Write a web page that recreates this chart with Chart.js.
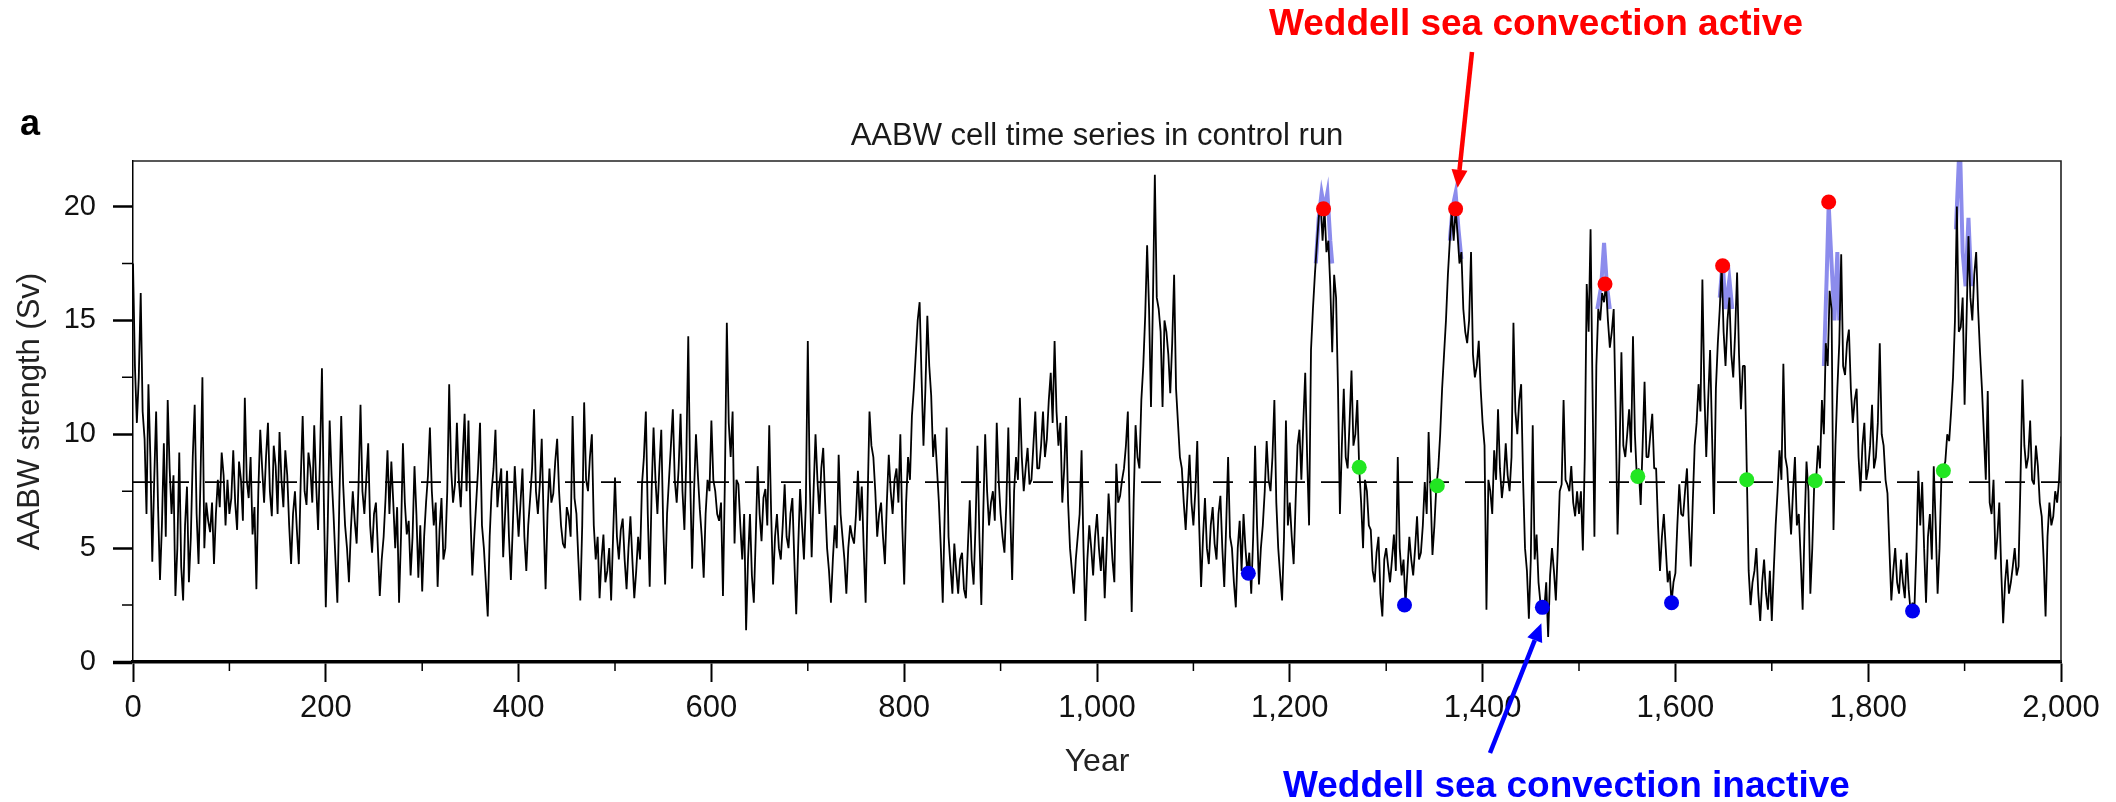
<!DOCTYPE html>
<html lang="en">
<head>
<meta charset="utf-8">
<title>AABW cell time series in control run</title>
<script src="https://cdn.jsdelivr.net/npm/chart.js@4"></script>
<style>
    html, body { margin: 0; padding: 0; background: #fff; }
    #aabwChart { display: block; }
</style>
</head>
<body>
<canvas id="aabwChart" width="2116" height="802"></canvas>
<script>
/**
 * AABW cell time series in control run - Chart.js recreation
 */

const FONT_FAMILY = "'Liberation Sans', Arial, Helvetica, sans-serif";

// One value every 2 model years (Sv)
const SAMPLE_STEP = 2;

// Years 0 - 498
const strength0 = [
    17.5, 13.0, 10.5, 12.5, 16.2, 11.0, 9.8, 6.5, 12.2, 9.0, 4.4, 8.0, 11.0, 6.8, 3.6, 6.0, 9.6, 5.5, 11.5, 8.5, 6.5, 8.2, 2.9, 5.0, 9.2,
    4.2, 2.7, 6.0, 7.7, 3.5, 5.5, 9.0, 11.3, 6.5, 4.3, 8.0, 12.5, 5.0, 7.0, 6.2, 5.7, 7.0, 4.3, 6.5, 8.0, 6.8, 9.2, 8.2, 6.0, 8.0,
    6.5, 7.2, 9.3, 7.0, 5.8, 8.8, 8.0, 6.2, 11.6, 8.0, 7.2, 9.0, 5.6, 6.8, 3.2, 7.5, 10.2, 8.5, 7.0, 9.0, 10.5, 7.5, 6.4, 9.5, 8.6,
    6.5, 10.1, 8.0, 6.8, 9.3, 8.2, 6.0, 4.3, 6.5, 7.5, 5.8, 4.3, 8.0, 10.8, 7.5, 6.9, 9.2, 8.5, 7.0, 10.4, 7.8, 5.8, 9.0, 12.9, 7.0,
    2.4, 6.0, 10.6, 8.2, 6.5, 4.5, 2.6, 7.0, 10.8, 7.8, 6.0, 5.0, 3.5, 5.8, 7.5, 6.2, 5.2, 7.8, 11.3, 7.5, 6.5, 8.0, 9.6, 6.0, 4.8,
    6.5, 7.0, 5.0, 2.9, 4.5, 5.5, 7.2, 9.3, 6.5, 8.8, 7.0, 5.0, 6.8, 2.6, 5.5, 9.6, 7.0, 5.6, 6.2, 3.8, 5.5, 8.6, 6.5, 3.7, 6.0,
    3.1, 5.5, 7.0, 8.2, 10.3, 7.5, 6.0, 7.0, 3.3, 5.8, 7.2, 4.5, 5.0, 7.5, 12.2, 8.5, 7.0, 7.8, 10.5, 8.0, 6.8, 9.0, 10.9, 7.5, 10.6,
    6.5, 3.8, 5.5, 7.0, 8.5, 10.5, 6.0, 5.0, 3.5, 2.0, 5.5, 7.5, 8.5, 10.2, 6.8, 7.8, 8.5, 4.6, 6.5, 8.4, 5.5, 3.6, 6.0, 8.6, 7.0,
    5.5, 7.0, 8.5, 5.5, 4.0, 6.0, 7.2, 8.5, 11.1, 7.5, 6.5, 7.8, 9.8, 6.2, 3.2, 6.5, 8.5, 7.0, 7.4, 8.8, 9.8, 7.5, 6.0, 5.2, 5.0,
    6.8, 6.4, 5.5, 10.8, 7.2, 6.5, 4.5, 2.7, 6.0, 11.4, 8.0, 7.5, 9.0, 10.0, 6.0, 4.5, 5.5, 2.8, 4.5, 5.6, 3.5, 4.0, 5.0, 2.7, 5.5
];

// Years 500 - 998
const strength500 = [
    8.1, 5.5, 4.5, 5.8, 6.3, 4.5, 3.2, 5.0, 6.4, 4.5, 2.8, 4.0, 5.5, 4.5, 7.8, 9.0, 11.0, 6.5, 3.3, 7.5, 10.3, 8.0, 6.5, 8.5, 10.2,
    6.0, 3.4, 6.5, 8.0, 9.5, 11.1, 8.0, 7.0, 8.5, 10.9, 7.5, 5.8, 9.0, 14.3, 8.0, 4.1, 7.5, 10.0, 8.2, 6.7, 5.5, 3.7, 6.5, 8.0, 7.5,
    10.6, 8.0, 7.5, 6.5, 6.2, 7.0, 2.9, 8.0, 14.9, 10.5, 9.0, 11.0, 5.2, 8.0, 7.8, 6.0, 4.5, 6.5, 1.4, 4.5, 6.5, 3.8, 2.6, 5.5, 8.6,
    6.5, 5.3, 7.2, 7.6, 6.0, 10.4, 6.5, 3.4, 5.5, 6.5, 5.0, 4.5, 6.0, 7.8, 5.5, 5.0, 6.5, 7.2, 4.5, 2.1, 5.0, 7.6, 6.0, 4.5, 7.0,
    14.1, 8.0, 4.6, 7.5, 10.0, 8.0, 6.5, 8.5, 9.4, 7.0, 5.0, 4.0, 2.6, 4.5, 6.0, 5.0, 9.1, 6.5, 5.5, 4.5, 3.0, 5.0, 6.0, 5.5, 5.2,
    6.5, 8.4, 6.2, 7.7, 5.0, 2.6, 7.0, 11.0, 9.5, 9.0, 7.5, 5.5, 6.5, 7.0, 5.5, 4.3, 7.0, 9.1, 7.5, 6.5, 8.0, 8.5, 7.0, 10.0, 6.0,
    3.4, 7.0, 9.0, 8.0, 10.8, 12.0, 13.5, 15.0, 15.8, 12.5, 9.5, 12.0, 15.2, 13.0, 11.7, 9.0, 10.0, 8.5, 7.0, 5.0, 2.6, 6.5, 10.3, 5.5, 4.2,
    3.0, 5.2, 4.0, 3.0, 4.5, 4.8, 3.2, 2.8, 5.0, 7.1, 4.5, 3.4, 6.0, 9.5, 5.5, 2.5, 6.5, 10.0, 7.5, 6.0, 7.0, 7.5, 6.2, 10.5, 8.0,
    6.5, 5.5, 4.8, 7.0, 10.3, 6.5, 3.6, 7.5, 9.0, 8.0, 11.6, 9.0, 7.5, 8.5, 9.4, 7.8, 8.0, 9.5, 11.0, 8.5, 8.5, 9.5, 11.0, 9.0, 9.8,
    11.5, 12.7, 10.5, 14.1, 11.0, 9.5, 10.5, 7.0, 8.5, 10.8, 7.0, 5.0, 4.0, 3.0, 4.5, 5.5, 6.5, 9.3, 5.0, 1.8, 4.5, 6.0, 5.0, 3.8, 5.5
];

// Years 1000 - 1498
const strength1000 = [
    6.5, 5.0, 4.0, 5.5, 2.8, 5.0, 7.4, 6.0, 4.5, 3.5, 8.7, 7.0, 7.3, 8.0, 8.5, 9.5, 11.0, 6.0, 2.2, 7.0, 10.4, 9.0, 8.5, 11.5, 13.0,
    15.2, 18.3, 15.5, 11.2, 15.8, 21.4, 16.0, 15.5, 14.5, 11.2, 15.0, 14.5, 13.5, 11.8, 14.0, 17.0, 12.0, 10.5, 9.0, 8.5, 7.0, 5.8, 7.5, 9.1, 7.0,
    6.0, 7.5, 9.7, 6.0, 3.3, 5.5, 7.2, 5.0, 4.3, 6.0, 6.8, 5.2, 4.5, 6.5, 7.3, 5.0, 3.3, 6.0, 9.0, 5.5, 5.0, 3.5, 2.4, 5.0, 6.2,
    4.0, 6.5, 5.0, 3.9, 4.8, 3.0, 5.5, 9.5, 6.0, 3.4, 5.0, 6.0, 7.5, 9.7, 8.0, 7.5, 9.0, 11.5, 7.0, 5.0, 3.8, 2.7, 5.5, 10.6, 6.0,
    7.0, 5.5, 4.3, 7.0, 9.5, 10.2, 8.0, 10.5, 12.7, 9.0, 6.0, 13.7, 15.5, 17.0, 18.3, 19.5, 20.2, 18.5, 19.9, 18.0, 18.5, 16.5, 13.6, 17.0, 16.0,
    12.0, 6.5, 9.5, 12.0, 9.0, 8.5, 10.5, 12.8, 9.5, 10.0, 11.5, 8.5, 7.0, 5.0, 8.0, 7.5, 6.0, 5.8, 4.0, 3.5, 4.8, 5.5, 3.0, 2.0, 4.5,
    5.0, 4.2, 3.5, 4.5, 5.6, 4.0, 9.0, 5.0, 3.8, 4.5, 2.5, 4.0, 5.5, 4.5, 3.8, 5.0, 6.4, 4.5, 4.8, 6.0, 7.9, 6.5, 10.1, 7.5, 4.7,
    6.0, 7.7, 8.5, 10.0, 12.0, 13.5, 15.0, 17.0, 18.5, 19.8, 18.5, 19.9, 18.8, 17.5, 18.0, 15.5, 14.5, 14.0, 15.0, 18.0, 13.5, 12.5, 13.0, 14.1, 12.0,
    10.5, 9.5, 2.3, 8.0, 7.5, 6.5, 9.3, 8.0, 11.1, 8.5, 7.2, 8.0, 9.6, 8.2, 7.5, 9.0, 14.9, 11.0, 10.0, 11.5, 12.2, 8.0, 5.0, 4.0, 1.9,
    4.5, 10.4, 4.5, 5.6, 3.5, 2.6, 2.4, 2.3, 3.5, 1.1, 3.8, 5.0, 4.0, 2.7, 5.0, 7.5, 7.8, 11.5, 8.0, 7.8, 7.5, 8.6, 7.0, 6.4, 7.5
];

// Years 1500 - 2000
const strength1500 = [
    6.5, 7.5, 4.9, 9.0, 16.6, 14.5, 19.0, 12.0, 5.5, 13.0, 15.5, 15.0, 16.2, 15.8, 16.6, 15.0, 13.8, 14.5, 15.5, 11.0, 5.6, 9.0, 13.6, 9.5, 9.0,
    10.0, 11.1, 9.2, 14.3, 10.0, 8.1, 8.5, 6.9, 9.5, 12.3, 9.0, 9.0, 10.0, 10.9, 8.5, 8.5, 6.0, 4.0, 5.5, 6.5, 5.0, 3.5, 4.0, 2.6, 3.5,
    3.9, 6.0, 7.8, 6.5, 6.4, 7.5, 8.5, 6.0, 4.2, 7.0, 9.5, 10.5, 12.2, 11.0, 16.8, 12.0, 9.0, 11.5, 13.7, 10.0, 6.5, 12.0, 14.0, 15.5, 17.4,
    14.5, 13.0, 15.0, 16.0, 13.5, 12.5, 14.5, 17.1, 13.5, 11.1, 13.0, 13.0, 8.5, 4.0, 2.5, 3.5, 4.0, 5.0, 3.0, 1.8, 3.5, 4.5, 3.0, 2.3, 4.0,
    1.8, 4.0, 6.0, 7.5, 9.3, 8.0, 13.1, 9.0, 8.5, 7.0, 5.6, 7.5, 9.0, 6.0, 6.5, 4.5, 2.3, 6.0, 8.8, 7.5, 3.0, 5.0, 7.8, 8.0, 9.5,
    8.5, 11.5, 10.0, 14.0, 13.0, 16.3, 15.5, 5.8, 9.5, 12.0, 14.0, 17.9, 13.0, 12.6, 14.0, 14.6, 12.0, 10.5, 11.5, 12.0, 9.0, 7.5, 9.5, 10.5, 8.0,
    8.5, 9.5, 11.3, 8.5, 9.0, 10.5, 14.0, 10.0, 9.5, 8.0, 7.4, 5.0, 2.7, 4.0, 5.0, 3.5, 3.0, 4.5, 3.5, 2.8, 4.8, 3.2, 2.2, 2.6, 2.4,
    5.0, 8.4, 6.0, 7.9, 5.0, 2.6, 5.5, 6.5, 4.5, 8.6, 6.0, 3.0, 5.0, 8.2, 8.5, 8.8, 10.0, 9.7, 11.0, 12.5, 15.0, 20.0, 14.5, 14.7, 16.0,
    11.3, 15.0, 18.7, 16.0, 15.0, 17.0, 18.0, 15.5, 13.6, 12.0, 10.0, 8.0, 11.9, 7.0, 6.5, 8.0, 4.5, 5.5, 7.0, 4.0, 1.7, 3.5, 4.5, 3.0, 3.5,
    4.2, 5.0, 3.8, 4.2, 8.0, 12.4, 9.5, 8.5, 9.0, 10.6, 8.0, 7.8, 9.5, 8.6, 7.0, 6.4, 4.5, 2.0, 5.5, 7.0, 6.0, 6.4, 7.5, 7.0, 8.0, 9.9
];

// Light blue trace showing through at the convection peaks (null = gap)
const peakTraceYears = [
    1227, 1230, 1233, 1236, 1239, 1242, 1244, 1300,
    1366, 1369, 1372, 1375, 1378, 1450,
    1519, 1523, 1526, 1529, 1532, 1600,
    1646, 1649, 1652, 1656, 1659, 1700,
    1754, 1757, 1759, 1762, 1765, 1768, 1770, 1800,
    1891, 1893, 1895, 1898, 1901, 1904, 1907
];
const peakTraceValues = [
    17.5, 19.5, 20.6, 19.9, 20.6, 18.5, 17.5, null,
    18.5, 20.0, 20.6, 19.0, 17.7, null,
    15.5, 16.5, 18.4, 16.5, 15.5, null,
    16.0, 17.6, 15.5, 16.8, 15.5, null,
    13.0, 17.0, 20.1, 17.5, 15.0, 18.0, 15.0, null,
    19.0, 21.0, 23.0, 18.0, 16.5, 19.5, 16.5
];

// Marked states
const activeYears = [1235, 1372, 1527, 1649, 1759];
const activeValues = [19.9, 19.9, 16.6, 17.4, 20.2];
const transitionYears = [1272, 1353, 1561, 1674, 1745, 1878];
const transitionValues = [8.55, 7.74, 8.15, 8.0, 7.96, 8.4];
const inactiveYears = [1157, 1319, 1462, 1596, 1846];
const inactiveValues = [3.9, 2.5, 2.4, 2.6, 2.24];

// Long-term mean (dashed line)
const meanYears = [0, 2000];
const meanValues = [7.9, 7.9];

// Axis ticks
const xTickValues = [0, 200, 400, 600, 800, 1000, 1200, 1400, 1600, 1800, 2000];
const xTickLabels = ['0', '200', '400', '600', '800', '1,000', '1,200', '1,400', '1,600', '1,800', '2,000'];
const xMinorTicks = [100, 300, 500, 700, 900, 1100, 1300, 1500, 1700, 1900];
const yTickValues = [0, 5, 10, 15, 20];
const yTickLabels = ['0', '5', '10', '15', '20'];
const yMinorTicks = [2.5, 7.5, 12.5, 17.5];

/**
 * Zip x and y arrays into Chart.js points
 */
function toPoints(xs, ys) {
    return xs.map((x, i) => ({ x: x, y: ys[i] }));
}

const strengthValues = [...strength0, ...strength500, ...strength1000, ...strength1500];
const strengthYears = strengthValues.map((_, i) => i * SAMPLE_STEP);

/**
 * Draw a straight arrow with a filled head
 */
function drawArrow(ctx, x1, y1, x2, y2, color) {
    const ang = Math.atan2(y2 - y1, x2 - x1);
    const head = 18;
    const half = 8;
    const bx = x2 - head * Math.cos(ang);
    const by = y2 - head * Math.sin(ang);
    ctx.strokeStyle = color;
    ctx.lineWidth = 4.5;
    ctx.beginPath();
    ctx.moveTo(x1, y1);
    ctx.lineTo(bx, by);
    ctx.stroke();
    ctx.fillStyle = color;
    ctx.beginPath();
    ctx.moveTo(x2, y2);
    ctx.lineTo(bx + half * Math.sin(ang), by - half * Math.cos(ang));
    ctx.lineTo(bx - half * Math.sin(ang), by + half * Math.cos(ang));
    ctx.closePath();
    ctx.fill();
}

// Frame, minor ticks, title and the two annotations
const overlayPlugin = {
    id: 'overlay',
    afterDraw(chart) {
        const { ctx, chartArea: area, scales: { x, y } } = chart;
        ctx.save();

        // top / right frame
        ctx.strokeStyle = '#222';
        ctx.lineWidth = 1.6;
        ctx.beginPath();
        ctx.moveTo(area.left, area.top);
        ctx.lineTo(area.right, area.top);
        ctx.lineTo(area.right, area.bottom);
        ctx.stroke();

        // minor ticks
        ctx.strokeStyle = '#000';
        ctx.lineWidth = 1.5;
        ctx.beginPath();
        xMinorTicks.forEach(v => {
            const px = x.getPixelForValue(v);
            ctx.moveTo(px, area.bottom);
            ctx.lineTo(px, area.bottom + 9);
        });
        yMinorTicks.forEach(v => {
            const py = y.getPixelForValue(v);
            ctx.moveTo(area.left - 11, py);
            ctx.lineTo(area.left, py);
        });
        ctx.stroke();

        // title and panel letter
        ctx.fillStyle = '#1a1a1a';
        ctx.textAlign = 'center';
        ctx.textBaseline = 'alphabetic';
        ctx.font = '31px ' + FONT_FAMILY;
        ctx.fillText('AABW cell time series in control run', (area.left + area.right) / 2, 145);
        ctx.textAlign = 'left';
        ctx.font = 'bold 36px ' + FONT_FAMILY;
        ctx.fillStyle = '#000';
        ctx.fillText('a', 20, 135);

        // annotations
        ctx.font = 'bold 37px ' + FONT_FAMILY;
        ctx.fillStyle = '#ff0000';
        ctx.fillText('Weddell sea convection active', 1269, 35);
        const ax = x.getPixelForValue(activeYears[1]);
        const ay = y.getPixelForValue(activeValues[1]);
        drawArrow(ctx, 1472, 52, ax + 2, ay - 21, '#ff0000');

        ctx.fillStyle = '#0000ff';
        ctx.fillText('Weddell sea convection inactive', 1283, 797);
        const bx = x.getPixelForValue(inactiveYears[2]);
        const by = y.getPixelForValue(inactiveValues[2]);
        drawArrow(ctx, 1490, 753, bx - 1, by + 16, '#0000ff');

        ctx.restore();
    }
};

function createAabwChart(canvasId) {
    const canvas = document.getElementById(canvasId);
    if (!canvas) {
        console.error(`Canvas element ${canvasId} not found`);
        return null;
    }

    const dotStyle = (color) => ({
        showLine: false,
        pointRadius: 7.5,
        pointBackgroundColor: color,
        pointBorderColor: color,
        pointBorderWidth: 0
    });

    return new Chart(canvas, {
        type: 'line',
        data: {
            datasets: [
                {
                    label: 'Peak trace',
                    data: toPoints(peakTraceYears, peakTraceValues),
                    borderColor: 'rgb(140, 140, 236)',
                    borderWidth: 4,
                    pointRadius: 0,
                    spanGaps: false,
                    order: 4
                },
                {
                    label: 'Mean',
                    data: toPoints(meanYears, meanValues),
                    borderColor: '#000',
                    borderWidth: 1.7,
                    borderDash: [20, 16],
                    pointRadius: 0,
                    order: 3
                },
                {
                    label: 'AABW strength',
                    data: toPoints(strengthYears, strengthValues),
                    borderColor: '#000',
                    borderWidth: 1.8,
                    borderJoinStyle: 'bevel',
                    pointRadius: 0,
                    order: 2
                },
                Object.assign({ label: 'Active', data: toPoints(activeYears, activeValues), order: 1 }, dotStyle('#ff0000')),
                Object.assign({ label: 'Transition', data: toPoints(transitionYears, transitionValues), order: 1 }, dotStyle('#22e622')),
                Object.assign({ label: 'Inactive', data: toPoints(inactiveYears, inactiveValues), order: 1 }, dotStyle('#0000f0'))
            ]
        },
        options: {
            responsive: false,
            animation: false,
            devicePixelRatio: 1,
            layout: { padding: { top: 161, right: 55, bottom: 0, left: 0 } },
            plugins: {
                legend: { display: false },
                tooltip: { enabled: false },
                title: { display: false }
            },
            scales: {
                x: {
                    type: 'linear',
                    min: 0,
                    max: 2000,
                    afterFit: (scale) => { scale.height = 140; },
                    afterBuildTicks: (scale) => { scale.ticks = xTickValues.map(v => ({ value: v })); },
                    grid: {
                        drawOnChartArea: false,
                        drawTicks: true,
                        tickLength: 20,
                        tickColor: '#000',
                        tickWidth: 2
                    },
                    border: { display: true, color: '#000', width: 3.5 },
                    ticks: {
                        padding: 8,
                        maxRotation: 0,
                        autoSkip: false,
                        color: '#111',
                        font: { family: FONT_FAMILY, size: 31 },
                        callback: (value) => xTickLabels[xTickValues.indexOf(value)]
                    },
                    title: {
                        display: true,
                        text: 'Year',
                        color: '#222',
                        font: { family: FONT_FAMILY, size: 32 },
                        padding: { top: 0, bottom: 21 }
                    }
                },
                y: {
                    min: 0,
                    max: 22,
                    afterFit: (scale) => { scale.width = 133; },
                    afterBuildTicks: (scale) => { scale.ticks = yTickValues.map(v => ({ value: v })); },
                    grid: {
                        drawOnChartArea: false,
                        drawTicks: true,
                        tickLength: 20,
                        tickColor: '#000',
                        tickWidth: (ctx) => (ctx.tick && ctx.tick.value === 0 ? 3.5 : 2.5)
                    },
                    border: { display: true, color: '#000', width: 1.5 },
                    ticks: {
                        padding: 17,
                        color: '#111',
                        font: { family: FONT_FAMILY, size: 29 },
                        callback: (value) => yTickLabels[yTickValues.indexOf(value)]
                    },
                    title: {
                        display: true,
                        text: 'AABW strength (Sv)',
                        color: '#222',
                        font: { family: FONT_FAMILY, size: 31 },
                        padding: { top: 12, bottom: 0 }
                    }
                }
            }
        },
        plugins: [overlayPlugin]
    });
}

document.addEventListener('DOMContentLoaded', () => createAabwChart('aabwChart'));
</script>
</body>
</html>
